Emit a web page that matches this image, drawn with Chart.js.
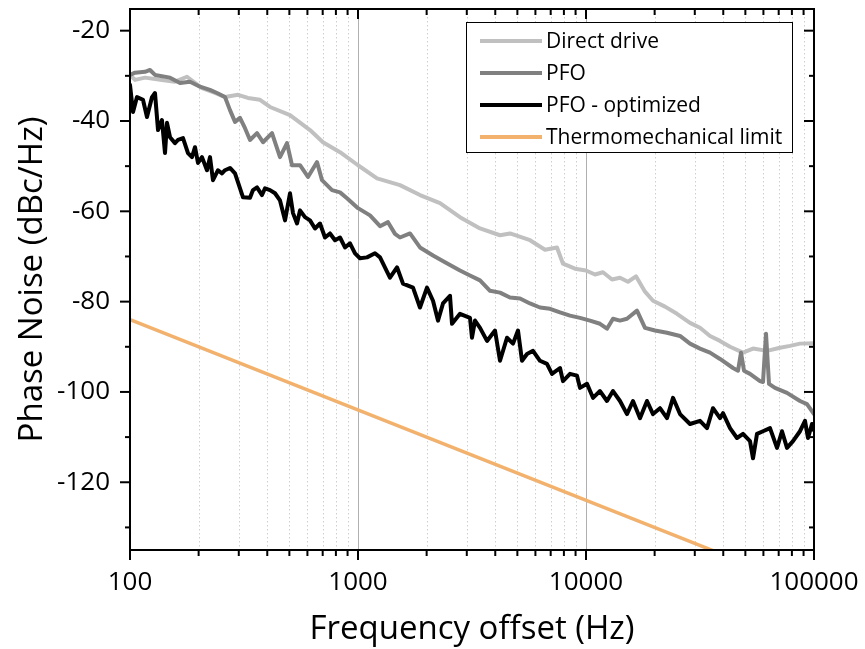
<!DOCTYPE html>
<html><head><meta charset="utf-8">
<script src="https://cdn.jsdelivr.net/npm/chart.js@4.4.0/dist/chart.umd.min.js"></script>
<style>html,body{margin:0;padding:0;background:#fff;}</style>
</head><body>
<canvas id="c" width="865" height="649"></canvas>
<script>
// ---------- data (Hz, dBc/Hz) ----------
const directFreq = [100,105.2,116.4,138.1,157.5,177.8,206.9,235.9,261,297.7,329,371.7,411.2,503.2,615.9,702,833.8,1000,1212,1528,1870,2289,2801,3429,4196,4642,5681,6610,7461,7927,8948,10000,10951,11872,13002,14096,15282,16568,18146,19673,22207,25068,28586,31623,34985,38704,42817,48820,54009,62212,70936,78476,86816,100000];
const directVals = [-29.8,-30.9,-30.4,-30.9,-31.3,-30.2,-32.7,-33.8,-34.7,-34.2,-34.9,-35.3,-36.9,-38.7,-42,-44.7,-46.9,-49.8,-52.7,-54.2,-56.4,-58.2,-61.3,-63.8,-65.3,-64.9,-66.4,-68.5,-68,-71.6,-72.7,-73.1,-74,-73.5,-75.1,-74.7,-75.6,-74.4,-77.8,-79.8,-81.1,-82.7,-84.7,-85.8,-87.6,-88.7,-90,-91.3,-90.4,-90.9,-90.2,-89.8,-89.3,-89.2];

const pfoFreq = [100,105.2,116.4,122.4,128.7,149.8,165.7,183.3,202.8,224.3,240.8,261,274.5,288.8,303.7,319.5,336,360.6,383.1,419.6,454.9,488.2,513.5,556.7,603.5,661,695.2,769.1,833.8,894.8,1000,1129,1249,1354,1453,1528,1691,1870,2133,2408,2801,3099,3429,3793,4196,4642,5135,5681,6284,6952,7691,8508,9412,10412,11519,12361,13133,14096,15128,16736,18146,20073,22660,25840,28586,31623,34985,38704,44134,46416,47845,49316,52396,57964,59749,61585,63480,67444,76130,86816,93173,100000];
const pfoVals = [-29.8,-29.3,-29.1,-28.7,-29.8,-30.4,-31.6,-31.3,-32.4,-33.1,-33.8,-34.7,-37.6,-40.2,-39.3,-41.6,-44.2,-42.7,-44.7,-42.7,-48,-44.9,-49.8,-49.8,-52.4,-49.1,-53.1,-55.3,-55.8,-57.1,-59.3,-60.9,-63.3,-62.4,-65,-65.8,-64.9,-68,-69.8,-71.3,-73.1,-74.2,-75.3,-77.6,-78,-79.1,-79.3,-80.4,-81.3,-81.6,-82.4,-83.1,-83.6,-84.2,-84.9,-86,-83.8,-84.2,-83.8,-82,-85.8,-86.4,-86.9,-87.6,-89.3,-90.4,-91.3,-92.7,-94.7,-95.3,-91.3,-95.3,-96,-97.6,-97.8,-87.1,-98.2,-99.1,-100.2,-102,-102.7,-104.9];

const optFreq = [100,103.1,107.3,114,118.7,124.9,128.7,132.7,138.1,142.4,145.3,149.8,157.5,162.4,170.8,179.6,187,192.8,198.7,206.9,217.6,224.3,231.2,243.2,253.2,261,274.5,288.8,313.1,336,346.3,360.6,379.3,391,411.2,432.5,454.9,478.5,503.2,518.7,540.1,556.7,585.5,615.9,647.8,681.3,716.6,753.7,792.7,833.8,876.9,922.3,970.2,1020,1095,1187,1249,1381,1483,1575,1743,1870,2007,2133,2243,2359,2532,2584,2801,3099,3162,3260,3429,3680,3989,4196,4503,4785,5032,5240,5511,5855,6284,6744,7094,7691,7927,8508,9131,9412,10102,10732,11519,12361,13133,14096,15128,16073,17252,18516,19673,21113,22660,24076,25840,28586,31623,33942,36061,38704,39894,42817,45950,48820,52396,54009,56234,59749,64125,68822,72382,76130,80888,86816,91310,94116,97999,100000];
const optVals = [-32.0,-38,-34.7,-35.3,-39.1,-34.7,-33.8,-42,-39.8,-47.1,-40.4,-43.6,-44.9,-44.2,-43.8,-47.1,-48,-45.8,-49.3,-48,-50.9,-48,-53.1,-50.9,-51.6,-50.9,-50.4,-51.6,-56.9,-57,-55.3,-54.7,-56.4,-54.9,-55.3,-56,-57.6,-62,-56,-60.4,-62.7,-59.8,-61.3,-62,-63.8,-62.7,-65.8,-64.9,-66.4,-65.8,-68,-67.1,-69.3,-70.4,-70.2,-69.3,-70.2,-74.7,-72.4,-76,-76.9,-81.3,-76.9,-79.8,-84.2,-80.4,-78.7,-84.9,-82.7,-83.6,-88,-84.2,-85.8,-88.7,-86.4,-93.1,-88,-89.3,-86.4,-93.1,-91.6,-90.9,-93.1,-93.8,-96,-94.7,-97.6,-96,-96.4,-99.1,-98.2,-101.3,-99.8,-102,-99.8,-102,-104.9,-102,-105.8,-102,-104.9,-103.6,-105.8,-101.3,-104.9,-107.1,-106.4,-108,-103.6,-105.8,-104.7,-108,-110.2,-109.3,-110.9,-114.7,-109.3,-108.7,-108,-112.4,-108.7,-112.4,-110.9,-108.7,-106.4,-110.2,-107.1,-108.5];

const thermoFreq = [100,100000];
const thermoVals = [-84,-144];

const labels = ['Direct drive','PFO','PFO - optimized','Thermomechanical limit'];
const colors = ['#c0c0c0','#808080','#000000','#f2b26e'];

const xTicks = [100,1000,10000,100000];
const xMinor = [200,300,400,500,600,700,800,900,2000,3000,4000,5000,6000,7000,8000,9000,20000,30000,40000,50000,60000,70000,80000,90000];
const yTicks = [-120,-100,-80,-60,-40,-20];
const yMinor = [-130,-110,-90,-70,-50,-30];

const FONT = "'Open Sans', 'DejaVu Sans', sans-serif";

function pts(f, v){ return f.map((x,i)=>({x:x, y:v[i]})); }
function noPad(s){ s.paddingTop=0; s.paddingBottom=0; s.paddingLeft=0; s.paddingRight=0; }

const framePlugin = {
  id:'frame',
  beforeDatasetsDraw(chart){
    const {ctx, chartArea:a, scales:{x}} = chart;
    ctx.save();
    ctx.lineWidth = 1;
    ctx.strokeStyle = '#cfcfcf';
    ctx.setLineDash([1.5,2.5]);
    xMinor.forEach(v=>{
      const px = Math.round(x.getPixelForValue(v))+0.5;
      ctx.beginPath(); ctx.moveTo(px,a.top); ctx.lineTo(px,a.bottom); ctx.stroke();
    });
    ctx.setLineDash([]);
    ctx.strokeStyle = '#b0b0b0';
    [1000,10000].forEach(v=>{
      const px = Math.round(x.getPixelForValue(v))+0.5;
      ctx.beginPath(); ctx.moveTo(px,a.top); ctx.lineTo(px,a.bottom); ctx.stroke();
    });
    ctx.restore();
  },
  afterDatasetsDraw(chart){
    const {ctx, chartArea:a, scales:{x,y}} = chart;
    ctx.save();
    ctx.strokeStyle = '#000';
    ctx.lineWidth = 2;
    ctx.strokeRect(a.left, a.top, a.right-a.left, a.bottom-a.top);
    const seg=(x1,y1,x2,y2)=>{ctx.beginPath();ctx.moveTo(x1,y1);ctx.lineTo(x2,y2);ctx.stroke();};
    yTicks.forEach(v=>{const py=y.getPixelForValue(v); seg(a.left-10,py,a.left,py); seg(a.right,py,a.right-10,py);});
    yMinor.forEach(v=>{const py=y.getPixelForValue(v); seg(a.left-5,py,a.left,py); seg(a.right,py,a.right-5,py);});
    xTicks.forEach(v=>{const px=x.getPixelForValue(v); seg(px,a.bottom,px,a.bottom+10); seg(px,a.top,px,a.top+10);});
    xMinor.forEach(v=>{const px=x.getPixelForValue(v); seg(px,a.bottom,px,a.bottom+6); seg(px,a.top,px,a.top+6);});
    // legend
    const L=466, T=22, W=326, H=130;
    ctx.fillStyle='#fff'; ctx.fillRect(L,T,W,H);
    ctx.lineWidth=1; ctx.strokeStyle='#000'; ctx.strokeRect(L+0.5,T+0.5,W,H);
    ctx.font = "21px " + FONT; ctx.textBaseline='middle'; ctx.textAlign='left';
    chart.data.datasets.forEach((ds,i)=>{
      const ry = T+19+i*32;
      ctx.strokeStyle=ds.borderColor; ctx.lineWidth=4; ctx.lineCap='butt';
      seg(480,ry,542,ry);
      ctx.fillStyle='#000'; ctx.fillText(ds.label,546,ry+1);
    });
    ctx.restore();
  }
};

new Chart(document.getElementById('c'), {
  type:'line',
  data:{datasets:[
    {label:labels[0], data:pts(directFreq,directVals), borderColor:colors[0], borderWidth:4, pointRadius:0, order:3},
    {label:labels[1], data:pts(pfoFreq,pfoVals), borderColor:colors[1], borderWidth:4, pointRadius:0, order:2},
    {label:labels[2], data:pts(optFreq,optVals), borderColor:colors[2], borderWidth:4, pointRadius:0, order:1},
    {label:labels[3], data:pts(thermoFreq,thermoVals), borderColor:colors[3], borderWidth:3.5, pointRadius:0, order:4}
  ]},
  options:{
    responsive:false, animation:false, devicePixelRatio:1,
    layout:{padding:{top:9,right:51,left:0,bottom:0}},
    plugins:{legend:{display:false}, tooltip:{enabled:false}},
    elements:{line:{tension:0, borderJoinStyle:'round', borderCapStyle:'round'}},
    scales:{
      x:{type:'logarithmic', position:'bottom', min:100, max:100000,
        grid:{display:false, drawTicks:false}, border:{display:false},
        afterBuildTicks:s=>{s.ticks = xTicks.map(v=>({value:v}));},
        afterFit:s=>{s.height=99; noPad(s);},
        ticks:{color:'#000', font:{family:FONT,size:26}, padding:17, autoSkip:false, maxRotation:0, callback:v=>String(v)},
        title:{display:true, text:'Frequency offset (Hz)', color:'#000', font:{family:FONT,size:33}, padding:{top:0,bottom:0}}
      },
      y:{type:'linear', position:'left', min:-135, max:-15.2,
        grid:{display:false, drawTicks:false}, border:{display:false},
        afterBuildTicks:s=>{s.ticks = yTicks.map(v=>({value:v}));},
        afterFit:s=>{s.width=130; noPad(s);},
        ticks:{color:'#000', font:{family:FONT,size:26}, padding:20, callback:v=>String(v)},
        title:{display:true, text:'Phase Noise (dBc/Hz)', color:'#000', font:{family:FONT,size:33}, padding:{top:13,bottom:0}}
      }
    }
  },
  plugins:[framePlugin]
});
</script>
</body></html>
